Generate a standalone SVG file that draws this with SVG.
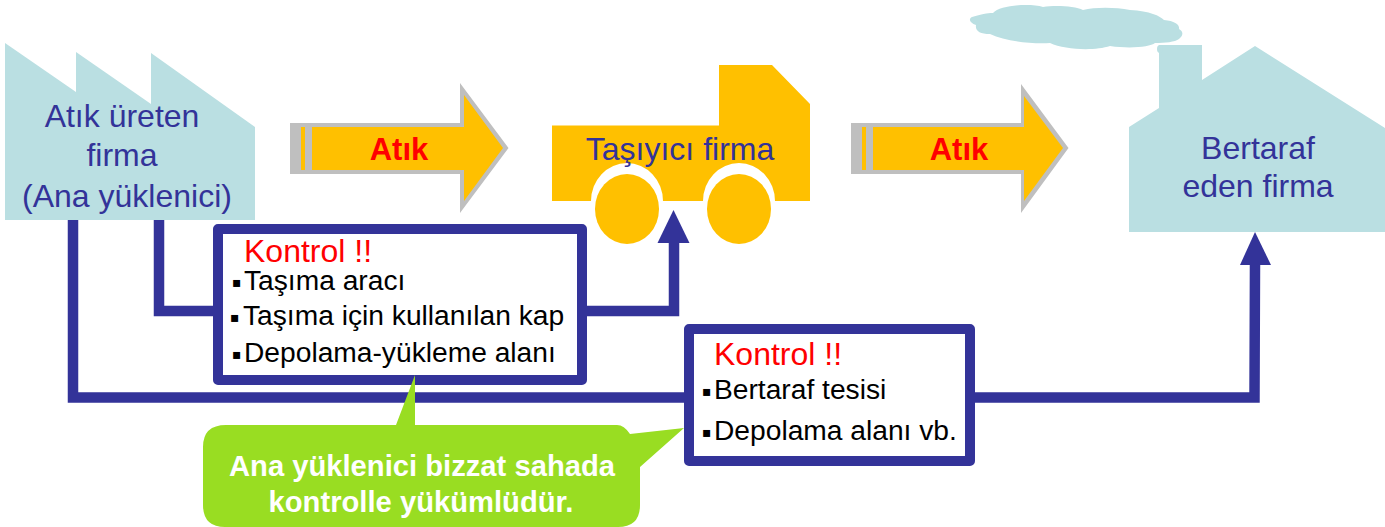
<svg xmlns="http://www.w3.org/2000/svg" width="1385" height="527" viewBox="0 0 1385 527">
<style>
text{font-family:"Liberation Sans",Arial,sans-serif}
.t{font-size:32px;fill:#333399;text-anchor:middle}
.a{font-size:31px;fill:#ff0000;font-weight:bold;text-anchor:middle}
.k{font-size:32px;fill:#ff0000}
.b{font-size:28.200px;fill:#000}
.d{font-family:"DejaVu Sans",sans-serif;font-size:14px}
.w{font-size:29.200px;fill:#fff;font-weight:bold;text-anchor:middle}
.c{fill:#badfe2}
.y{fill:#ffc000}
.g{fill:#bfbfbf}
.box{fill:#fff;stroke:#333399;stroke-width:10;stroke-linejoin:round}
.l{fill:none;stroke:#333399;stroke-width:10.500}
.h{fill:#333399}
</style>
<rect width="1385" height="527" fill="#fff"/>
<g id="connectors">
<path class="l" d="M73 220V397.500H1254.500L1255 262"/>
<path class="h" d="M1255 232L1271 265H1240Z"/>
<path class="l" d="M159 217V311H674V240"/>
<path class="h" d="M673.500 210L689.500 243H657.500Z"/>
</g>
<g id="factory">
<path class="c" d="M5 43L76 92V52L151 104V53L255 127V220H5Z"/>
<text class="t" x="122" y="127">Atık üreten</text>
<text class="t" x="122" y="166">firma</text>
<text class="t" x="127" y="207">(Ana yüklenici)</text>
</g>
<g id="arrow1">
<path class="g" d="M290 123H460V83L508.500 148L460 213V174H290Z"/>
<path class="y" d="M312 127H464V95L503 148L464 201V170H312Z"/>
<rect class="y" x="301" y="127" width="4" height="43"/>
<text class="a" x="399" y="160">Atık</text>
</g>
<g id="truck">
<path class="y" d="M552 125.500H719V65H772L810 104V201H775A36 38 0 0 0 703 201H663A36 38 0 0 0 591 201H552Z"/>
<ellipse class="y" cx="627" cy="209" rx="32" ry="35"/>
<ellipse class="y" cx="739" cy="209" rx="32" ry="35"/>
<text class="t" x="680" y="160">Taşıyıcı firma</text>
</g>
<g id="arrow2">
<path class="g" d="M851 123H1021V84L1068.500 148L1021 213V174H851Z"/>
<path class="y" d="M873 127H1024V96L1063 148L1024 201V170H873Z"/>
<rect class="y" x="862" y="127" width="4" height="43"/>
<text class="a" x="959" y="160">Atık</text>
</g>
<g id="disposal">
<path class="c" d="M972 17C985 13 990 13 993 13C1000 5 1030 3 1043 7C1055 5 1075 6 1083 10C1095 7 1115 7 1130 10C1150 11 1160 16 1164 20C1175 21 1180 25 1179 29C1183 31 1184 35 1179 39C1175 42 1165 43 1155 43C1150 47 1130 49 1110 46C1095 51 1065 50 1050 43C1030 44 1005 41 990 34C980 34 975 31 976 25C970 23 968 19 972 17Z"/>
<path class="c" d="M1129 127L1159 108V45H1202V80L1255 46L1385 128V232H1129Z"/>
<ellipse class="c" cx="1160" cy="49" rx="3" ry="4"/>
<text class="t" x="1258" y="159">Bertaraf</text>
<text class="t" x="1258" y="197">eden firma</text>
</g>
<g id="control1">
<rect class="box" x="218" y="229" width="364" height="151"/>
<text class="k" x="244" y="262">Kontrol !!</text>
<text class="b" x="232" y="287"><tspan class="d">▪</tspan><tspan x="244" y="290">Taşıma aracı</tspan></text>
<text class="b" x="230" y="322"><tspan class="d">▪</tspan><tspan x="243" y="325">Taşıma için kullanılan kap</tspan></text>
<text class="b" x="232" y="359"><tspan class="d">▪</tspan><tspan x="244" y="362">Depolama-yükleme alanı</tspan></text>
</g>
<g id="control2">
<rect class="box" x="689" y="329" width="281" height="132"/>
<text class="k" x="714" y="365">Kontrol !!</text>
<text class="b" x="702" y="396"><tspan class="d">▪</tspan><tspan x="714" y="399">Bertaraf tesisi</tspan></text>
<text class="b" x="702" y="437"><tspan class="d">▪</tspan><tspan x="714" y="440">Depolama alanı vb.</tspan></text>
</g>
<g id="callout">
<path d="M226 425H396L415 375V425H617Q624 425 630 434L684 428L640 467V505Q640 527 618 527H225Q203 527 203 505V447Q203 425 226 425Z" fill="#99dd22"/>
<text class="w" x="422" y="476">Ana yüklenici bizzat sahada</text>
<text class="w" x="421" y="512">kontrolle yükümlüdür.</text>
</g>
</svg>
